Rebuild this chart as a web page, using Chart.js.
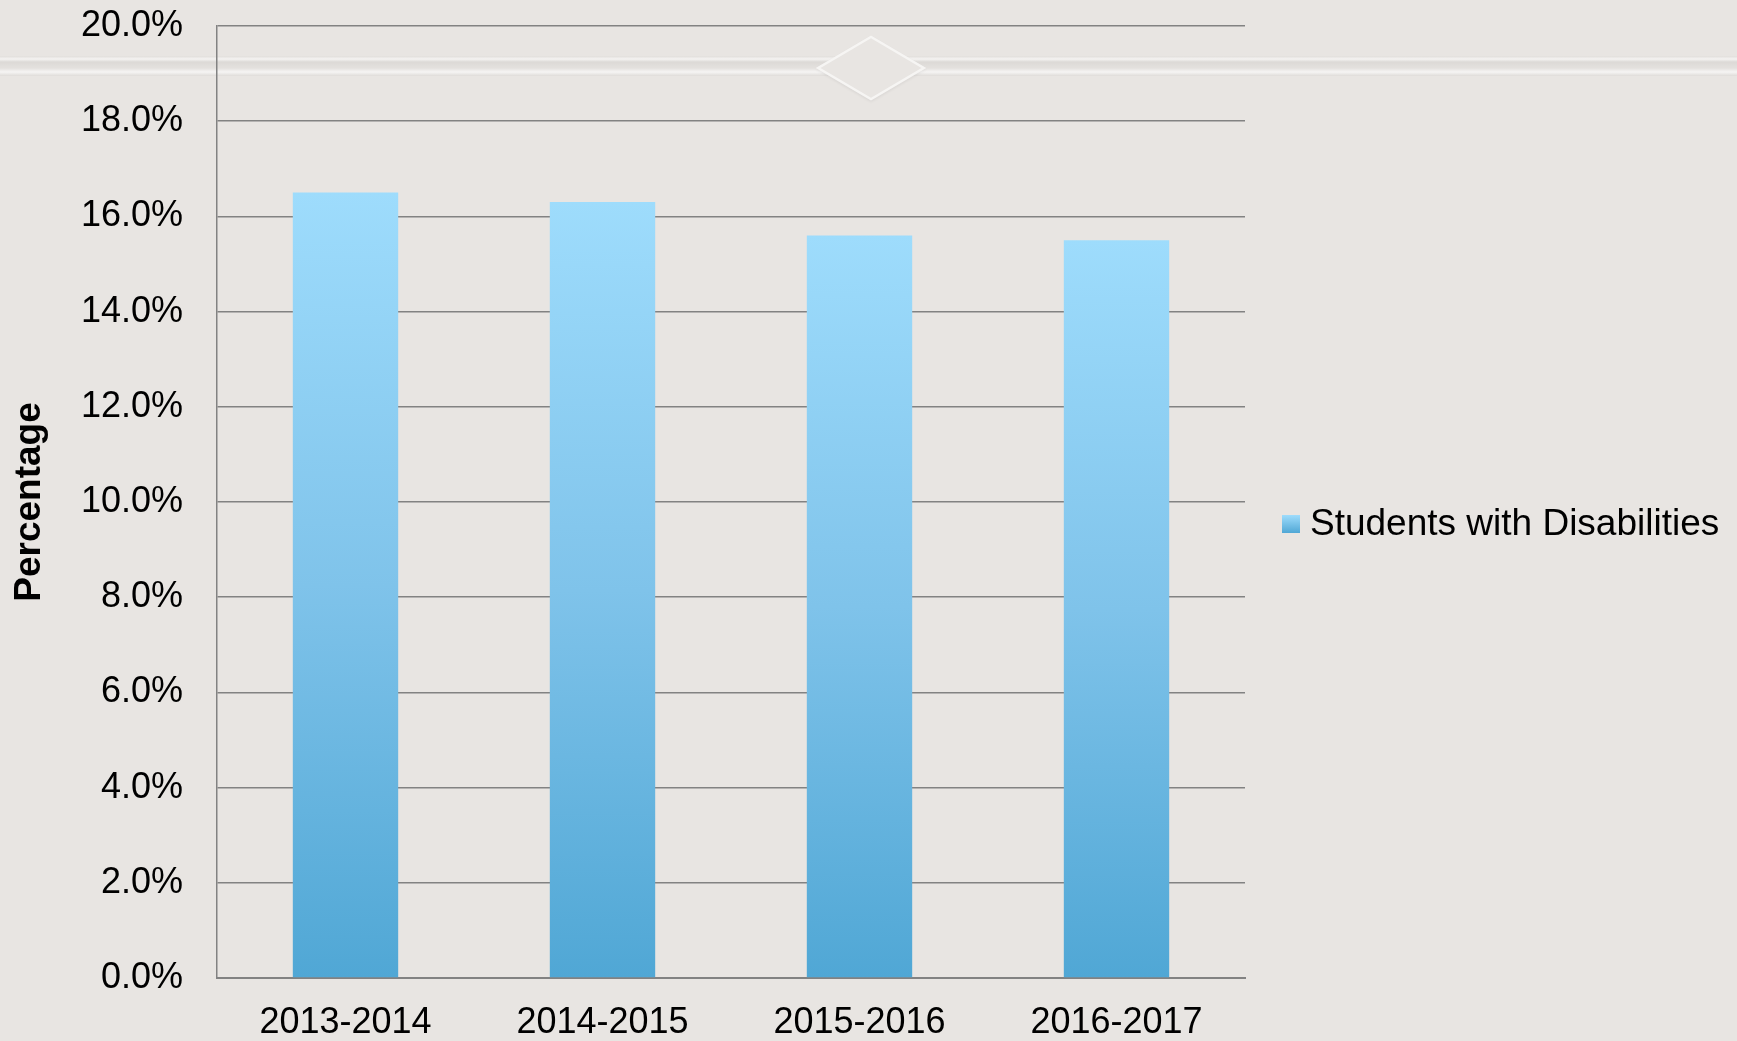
<!DOCTYPE html>
<html>
<head>
<meta charset="utf-8">
<title>Students with Disabilities</title>
<script src="https://cdn.jsdelivr.net/npm/chart.js@4.4.1/dist/chart.umd.min.js"></script>
<style>
    html, body { margin: 0; padding: 0; }
    body {
        width: 1737px;
        height: 1041px;
        overflow: hidden;
        position: relative;
        background: #e8e5e2;
    }
    /* decorative band across the slide background */
    .band {
        position: absolute;
        left: 0;
        width: 1737px;
        top: 56px;
        height: 20px;
        background: linear-gradient(to bottom,
            rgba(0,0,0,0.03) 0px, rgba(255,255,255,0.55) 3px, rgba(0,0,0,0.05) 6px,
            rgba(0,0,0,0.02) 12px, rgba(255,255,255,0.6) 16px, rgba(0,0,0,0.04) 20px);
    }
    .diamond {
        position: absolute;
        left: 848px;
        top: 45px;
        width: 42px;
        height: 42px;
        transform: scaleX(1.7) rotate(45deg);
        border: 2px solid rgba(255,255,255,0.6);
        box-shadow: 1px 1px 2px rgba(0,0,0,0.06);
        background: #e8e5e2;
    }
    #wrap { position: absolute; left: 0; top: 0; width: 1737px; height: 1041px; }
    #chart { display: block; }
</style>
</head>
<body>
<div class="band"></div>
<div class="diamond"></div>
<div id="wrap"><canvas id="chart" width="1737" height="1041"></canvas></div>
<script>
    // data
    const categories = ["2013-2014", "2014-2015", "2015-2016", "2016-2017"];
    const seriesName = "Students with Disabilities";
    const seriesValues = [16.5, 16.3, 15.6, 15.5];
    const yTicks = [0, 2, 4, 6, 8, 10, 12, 14, 16, 18, 20];

    const FONT = "'Liberation Sans', Arial, sans-serif";

    // gradient for every bar, light at the top and darker at the base
    function barGradient(context) {
        const chart = context.chart;
        const { ctx, chartArea, scales } = chart;
        if (!chartArea) return "#79c0e8";
        const v = context.raw;
        const top = scales.y.getPixelForValue(v);
        const bottom = scales.y.getPixelForValue(0);
        const g = ctx.createLinearGradient(0, top, 0, bottom);
        g.addColorStop(0, "#9edcfc");
        g.addColorStop(0.5, "#7fc3ea");
        g.addColorStop(1, "#50a7d5");
        return g;
    }

    // legend drawn on the right, beside the plot
    const sideLegend = {
        id: "sideLegend",
        afterDraw(chart) {
            const ctx = chart.ctx;
            const x = 1282, y = 524, box = 18;
            const g = ctx.createLinearGradient(0, y - box / 2, 0, y + box / 2);
            g.addColorStop(0, "#9edcfc");
            g.addColorStop(1, "#50a7d5");
            ctx.save();
            ctx.fillStyle = g;
            ctx.fillRect(x, y - box / 2, box, box);
            ctx.fillStyle = "#000";
            ctx.font = "37px " + FONT;
            ctx.textBaseline = "middle";
            ctx.fillText(chart.data.datasets[0].label, x + 28, y + 1);
            ctx.restore();
        }
    };

    new Chart(document.getElementById("chart"), {
        type: "bar",
        data: {
            labels: categories,
            datasets: [{
                label: seriesName,
                data: seriesValues,
                backgroundColor: barGradient,
                borderWidth: 0,
                categoryPercentage: 1,
                barPercentage: 0.41
            }]
        },
        options: {
            responsive: false,
            animation: false,
            devicePixelRatio: 1,
            layout: { padding: { top: 26, right: 492, bottom: 0, left: 0 } },
            plugins: {
                legend: { display: false },
                tooltip: { enabled: false }
            },
            scales: {
                y: {
                    min: 0,
                    max: 20,
                    afterFit: (scale) => {
                        scale.width = 217;
                        scale.paddingTop = 0;
                        scale.paddingBottom = 0;
                    },
                    afterBuildTicks: (scale) => {
                        scale.ticks = yTicks.map(v => ({ value: v }));
                    },
                    border: { display: true, color: "#828282", width: 1.5 },
                    grid: { color: "#828282", lineWidth: 1.5, drawTicks: false },
                    ticks: {
                        padding: 34,
                        color: "#000",
                        font: { family: FONT, size: 36 },
                        callback: (v) => v.toFixed(1) + "%"
                    },
                    title: {
                        display: true,
                        text: "Percentage",
                        color: "#000",
                        font: { family: FONT, size: 37, weight: "bold" },
                        padding: { top: 8, bottom: 0 }
                    }
                },
                x: {
                    afterFit: (scale) => {
                        scale.height = 63;
                        scale.paddingLeft = 0;
                        scale.paddingRight = 0;
                    },
                    border: { display: true, color: "#828282", width: 2 },
                    grid: { display: false, drawTicks: false },
                    ticks: {
                        padding: 23,
                        color: "#000",
                        font: { family: FONT, size: 36 }
                    }
                }
            }
        },
        plugins: [sideLegend]
    });
</script>
</body>
</html>
